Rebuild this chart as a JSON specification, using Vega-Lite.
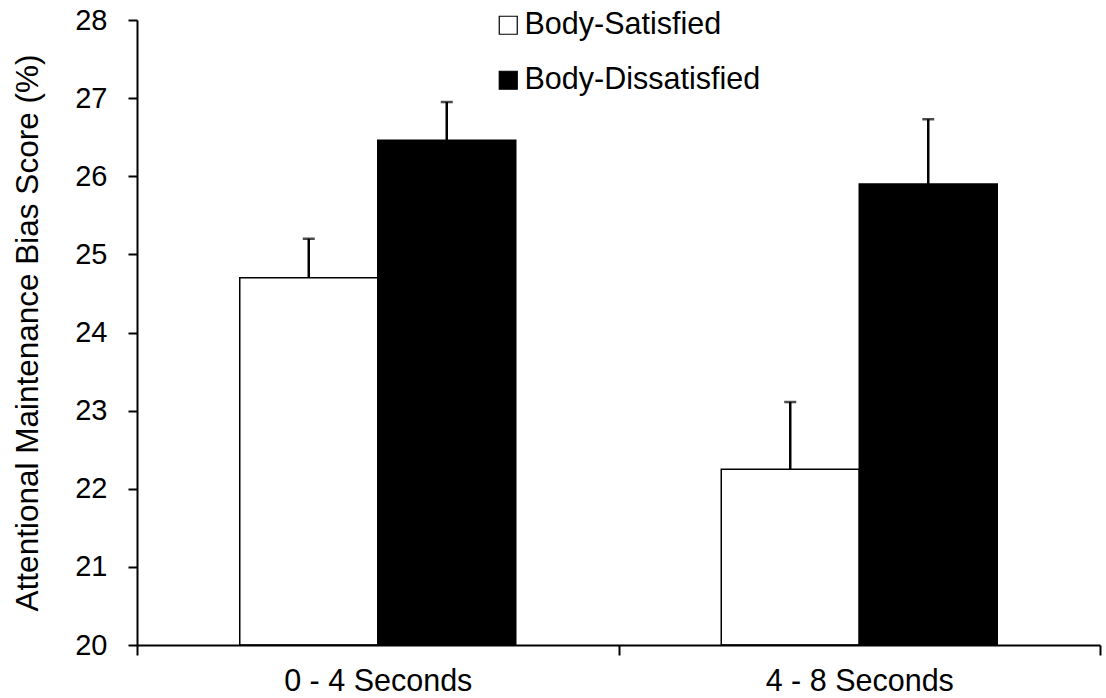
{
  "$schema": "https://vega.github.io/schema/vega-lite/v6.json",
  "width": 963,
  "height": 625,
  "autosize": {"type": "none"},
  "padding": {"left": 137, "top": 20, "right": 6, "bottom": 53},
  "background": "white",
  "config": {
    "view": {"stroke": null},
    "font": "Liberation Sans",
    "axis": {"grid": false, "domainColor": "black", "tickColor": "black", "labelColor": "black", "titleColor": "black", "labelFont": "Liberation Sans", "titleFont": "Liberation Sans", "titleFontWeight": "normal"},
    "legend": {"labelFont": "Liberation Sans"}
  },
  "data": {
    "values": [
      {"time": "0 - 4 Seconds", "group": "Body-Satisfied", "score": 24.70, "upper": 25.20},
      {"time": "0 - 4 Seconds", "group": "Body-Dissatisfied", "score": 26.46, "upper": 26.95},
      {"time": "4 - 8 Seconds", "group": "Body-Satisfied", "score": 22.25, "upper": 23.11},
      {"time": "4 - 8 Seconds", "group": "Body-Dissatisfied", "score": 25.90, "upper": 26.73}
    ]
  },
  "encoding": {
    "x": {
      "field": "time", "type": "nominal",
      "scale": {"paddingInner": 0, "paddingOuter": 0},
      "axis": {"title": null, "labelAngle": 0, "labelFontSize": 30.5, "labelLimit": 500, "labelPadding": 11, "tickSize": 10, "tickWidth": 2, "domainWidth": 2, "tickBand": "extent", "zindex": 1}
    },
    "xOffset": {
      "field": "group", "type": "nominal",
      "scale": {"domain": ["Body-Satisfied", "Body-Dissatisfied"], "paddingInner": 0, "paddingOuter": 0.7446}
    }
  },
  "layer": [
    {
      "mark": {"type": "bar", "stroke": "black", "strokeWidth": 1.5},
      "encoding": {
        "y": {
          "field": "score", "type": "quantitative",
          "scale": {"domain": [20, 28], "nice": false, "zero": false},
          "axis": {"title": "Attentional Maintenance Bias Score (%)", "titleFontSize": 31.5, "titlePadding": 30, "values": [20, 21, 22, 23, 24, 25, 26, 27, 28], "format": "d", "labelFontSize": 29, "labelPadding": 21, "tickSize": 9, "tickWidth": 2, "domainWidth": 2, "zindex": 1}
        },
        "y2": {"datum": 20},
        "fill": {
          "field": "group", "type": "nominal",
          "scale": {"domain": ["Body-Satisfied", "Body-Dissatisfied"], "range": ["white", "black"]},
          "legend": {
            "title": null, "orient": "none", "legendX": 356, "legendY": -10,
            "symbolType": "square", "symbolSize": 324, "symbolStrokeColor": "black", "symbolStrokeWidth": 1.2,
            "labelFontSize": 30.5, "labelColor": "black", "labelOffset": 1, "labelLimit": 500, "rowPadding": 24
          }
        }
      }
    },
    {
      "mark": {"type": "rule", "color": "black", "strokeWidth": 2.5},
      "encoding": {
        "y": {"field": "score", "type": "quantitative"},
        "y2": {"field": "upper"}
      }
    },
    {
      "mark": {"type": "tick", "color": "black", "size": 12, "thickness": 2.5, "orient": "horizontal"},
      "encoding": {
        "y": {"field": "upper", "type": "quantitative"}
      }
    }
  ]
}
